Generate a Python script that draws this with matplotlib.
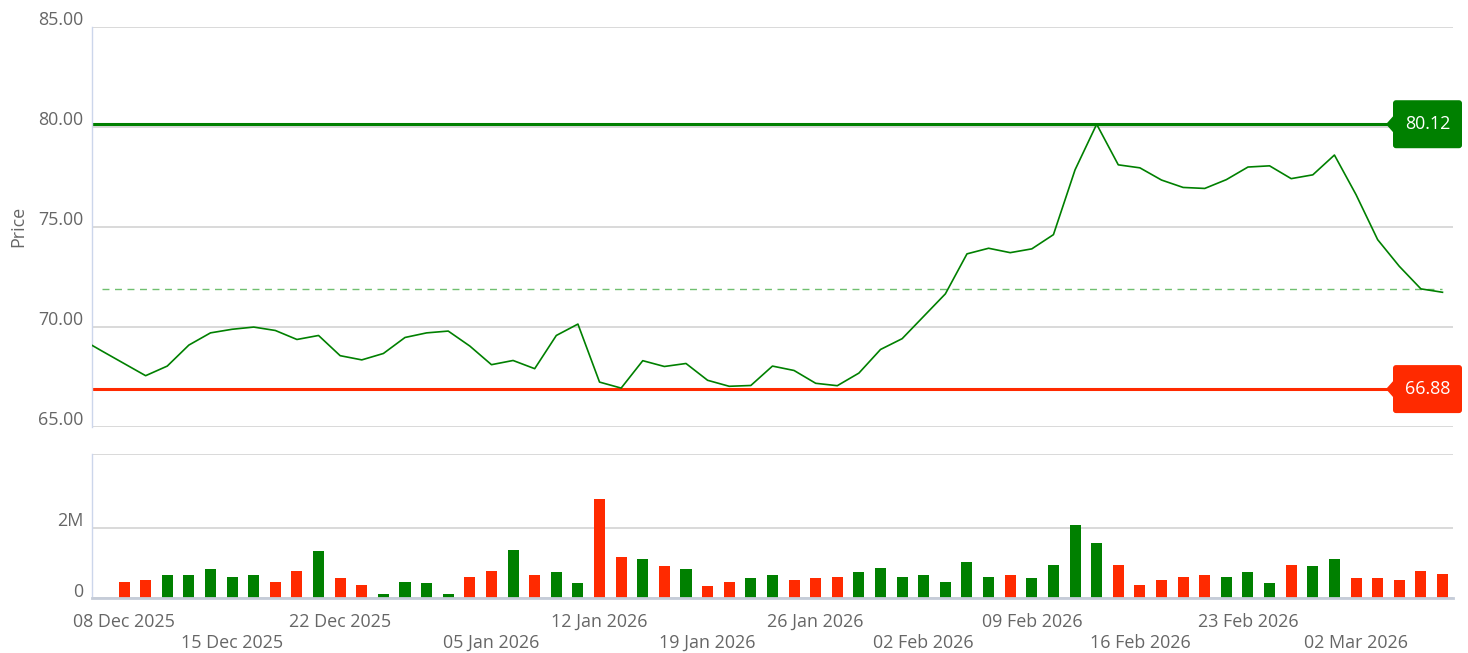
import numpy as np
import pandas as pd
import matplotlib
matplotlib.use("Agg")
import matplotlib.pyplot as plt
from matplotlib.patches import FancyBboxPatch, Polygon
from matplotlib.transforms import IdentityTransform, ScaledTranslation

plt.rcParams['font.family'] = ['Open Sans', 'DejaVu Sans']

# ── Data ──────────────────────────────────────────────────────────────────────
# trading days (UK calendar, 25/26 Dec and 1 Jan closed)
holidays = ["2025-12-25", "2025-12-26", "2026-01-01"]
days = pd.bdate_range("2025-12-04", "2026-03-06", freq="C", holidays=holidays)

# close prices from 04 Dec 2025 (first two days only lead into the view)
price = [69.39, 68.77,
         68.16, 67.55, 68.03, 69.08, 69.69, 69.87, 69.98, 69.81, 69.36, 69.56,
         68.55, 68.34, 68.66, 69.46, 69.69, 69.78, 69.03, 68.10, 68.31, 67.90,
         69.56, 70.13, 67.23, 66.93, 68.30, 68.01, 68.16, 67.32, 67.02, 67.06,
         68.03, 67.81, 67.17, 67.05, 67.68, 68.86, 69.40, 70.52, 71.64, 73.64,
         73.92, 73.70, 73.89, 74.60, 77.84, 80.12, 78.09, 77.94, 77.33, 76.96,
         76.91, 77.35, 77.98, 78.04, 77.40, 77.59, 78.58, 76.60, 74.35, 73.02,
         71.89, 71.72]

# volume in millions, from 08 Dec 2025
volume = [0.46, 0.52, 0.66, 0.66, 0.83, 0.60, 0.66, 0.46, 0.77, 1.34,
          0.58, 0.38, 0.12, 0.46, 0.43, 0.12, 0.60, 0.77, 1.37, 0.66,
          0.75, 0.43, 2.81, 1.17, 1.11, 0.92, 0.83, 0.35, 0.46, 0.58,
          0.66, 0.52, 0.58, 0.60, 0.75, 0.86, 0.60, 0.66, 0.46, 1.03,
          0.60, 0.66, 0.58, 0.94, 2.08, 1.57, 0.94, 0.38, 0.52, 0.60,
          0.66, 0.60, 0.75, 0.43, 0.94, 0.92, 1.11, 0.58, 0.58, 0.52,
          0.77, 0.69]

resistance = 80.12
support = 66.88
prev_close = 71.89

tick_dates = ["2025-12-08", "2025-12-15", "2025-12-22", "2026-01-05",
              "2026-01-12", "2026-01-19", "2026-01-26", "2026-02-02",
              "2026-02-09", "2026-02-16", "2026-02-23", "2026-03-02"]

price_ticks = [65, 70, 75, 80, 85]
vol_ticks = [0, 2]
vol_labels = ["0", "2M"]

# ── Setup ─────────────────────────────────────────────────────────────────────
GREEN = "#008000"
RED = "#ff2a00"
GRID = "#cfcfcf"
AXIS = "#ccd6eb"
TEXT = "#666666"
FS = 12.9

first = list(days).index(pd.Timestamp("2025-12-08"))
x_price = np.arange(len(price)) - first
x_vol = np.arange(len(volume))
price_arr = np.array(price)
up = price_arr[first:] >= price_arr[first - 1:-1]
bar_colors = [GREEN if u else RED for u in up]

date_index = {d: i - first for i, d in enumerate(days)}
tick_pos = [date_index[pd.Timestamp(d)] for d in tick_dates]
tick_lab = [pd.Timestamp(d).strftime("%d %b %Y") if k % 2 == 0
            else "\n" + pd.Timestamp(d).strftime("%d %b %Y")
            for k, d in enumerate(tick_dates)]

W, H = 1468, 653
fig = plt.figure(figsize=(W / 100, H / 100), dpi=100)
ax = fig.add_axes([91.6 / W, (H - 426.7) / H, 1361.7 / W, 400.1 / H])
ax2 = fig.add_axes([91.6 / W, (H - 598.3) / H, 1361.7 / W, 144.0 / H], sharex=ax)

XLIM = (-1.5, 61.5)


def style(a):
    for s in ["top", "right", "bottom"]:
        a.spines[s].set_visible(False)
    a.spines["left"].set_color(AXIS)
    a.spines["left"].set_linewidth(1.0)
    a.grid(axis="y", color=GRID, linewidth=1.1)
    a.set_axisbelow(True)
    a.tick_params(axis="y", length=0, pad=6, labelsize=FS, labelcolor=TEXT)
    off = ScaledTranslation(0, 1.0 / 72, fig.dpi_scale_trans)
    for lab in a.get_yticklabels():
        lab.set_verticalalignment("baseline")
        lab.set_transform(lab.get_transform() + off)


# ── Price panel ───────────────────────────────────────────────────────────────
ax.plot(x_price, price, color=GREEN, linewidth=1.2, zorder=3)
ax.axhline(resistance, color=GREEN, linewidth=2.2, zorder=2)
ax.axhline(support, color=RED, linewidth=2.2, zorder=2)
ax.plot([x_price[first - 1], x_vol[-1]], [prev_close, prev_close],
        color="#6fbf6f", linewidth=1.0, dashes=(5, 4), zorder=2)
ax.set_ylim(65, 85)
ax.set_yticks(price_ticks)
ax.set_yticklabels([f"{t:.2f}" for t in price_ticks])
ax.set_xlim(*XLIM)
ax.set_ylabel("Price", fontsize=FS, color=TEXT, labelpad=8)
ax.tick_params(axis="x", bottom=False, labelbottom=False)
style(ax)

# ── Volume panel ──────────────────────────────────────────────────────────────
ax2.bar(x_vol, volume, width=0.51, color=bar_colors, zorder=2)
ax2.set_ylim(0, 4.08)
ax2.set_yticks(vol_ticks + [4.08])
ax2.set_yticklabels(vol_labels + [""])
style(ax2)
ax2.spines["bottom"].set_visible(True)
ax2.spines["bottom"].set_color("#c5ccd8")
ax2.spines["bottom"].set_linewidth(2.0)
ax2.set_xticks(tick_pos)
ax2.set_xticklabels(tick_lab, fontsize=FS, color=TEXT, va="top")
ax2.tick_params(axis="x", length=0, pad=10.5)
ax2.set_xlim(*XLIM)

# ── Value flags on the right ──────────────────────────────────────────────────
for val, col in [(resistance, GREEN), (support, RED)]:
    yd = ax.transData.transform((0, val))[1]
    x0, x1, hh = 1393, 1462, 24
    box = FancyBboxPatch((x0, yd - hh), x1 - x0, 2 * hh,
                         boxstyle="round,pad=0,rounding_size=3",
                         transform=IdentityTransform(), facecolor=col,
                         edgecolor="none", zorder=10)
    tri = Polygon([(x0 + 1, yd - 9), (x0 + 1, yd + 9), (x0 - 7, yd)],
                  closed=True, transform=IdentityTransform(),
                  facecolor=col, edgecolor="none", zorder=10)
    fig.add_artist(box)
    fig.add_artist(tri)
    fig.text((x0 + x1) / 2 / W, yd / H, f"{val:.2f}", color="white",
             fontsize=FS, ha="center", va="center", zorder=11)

fig.savefig("out.png", dpi=100)
